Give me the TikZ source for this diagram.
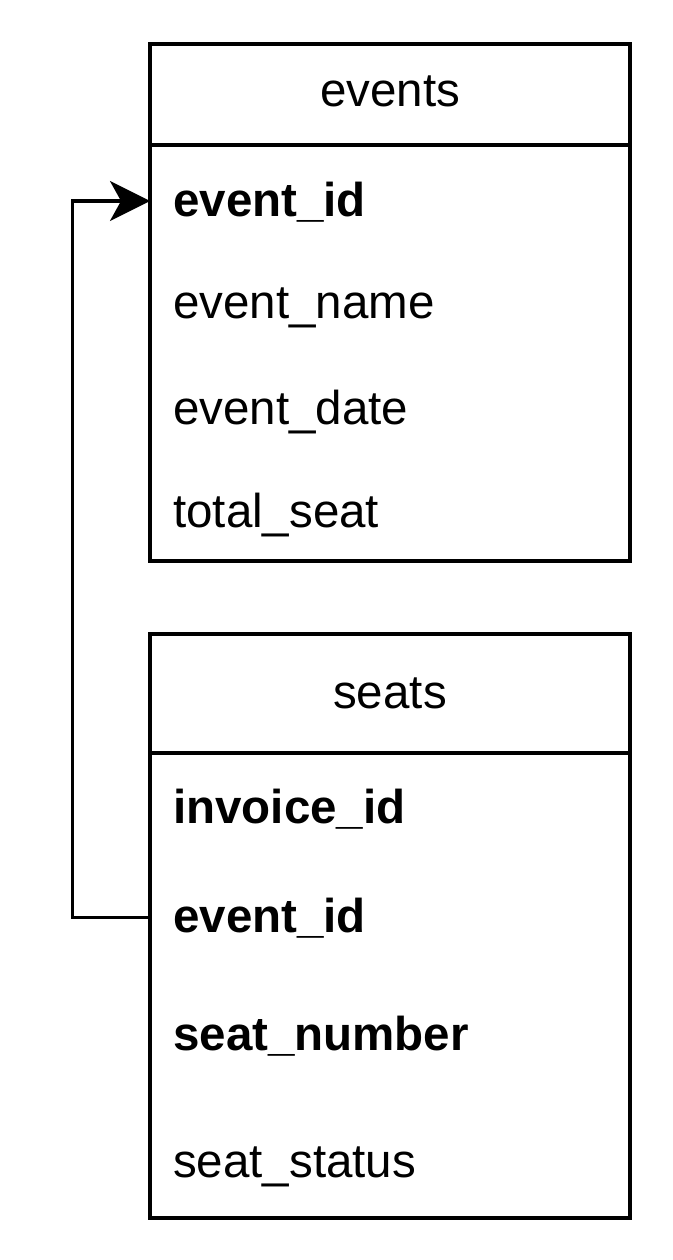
\documentclass[tikz,border=0pt]{standalone}
\usepackage{fontspec}
\setmainfont{Liberation Sans}
\usetikzlibrary{arrows.meta}
\tikzset{
  tbl/.style={draw, line width=3.5pt},
  hdr/.style={anchor=base, font=\fontsize{47.5}{57}\selectfont},
  fld/.style={anchor=base west, inner xsep=23pt, inner ysep=0pt, text height=38pt, text depth=8pt, font=\fontsize{47.5}{57}\selectfont},
  cle/.style={fld, font=\fontsize{47.5}{57}\selectfont\bfseries},
  lien/.style={-{Stealth[length=40pt,width=40pt,inset=11pt]}, line width=3pt}
}
\begin{document}
\begin{tikzpicture}[x=1pt, y=-1pt]
				\useasboundingbox (0,0) rectangle (672,1260);
				%Table events
				\draw[tbl] (150,44) rectangle (630,561);
				\draw[tbl] (150,145) -- (630,145);
				\node[hdr] (E0) at (390,107) {events};
				\node[cle] (E1) at (150,216) {event\_id};
				\node[fld] (E2) at (150,318) {event\_name};
				\node[fld] (E3) at (150,424) {event\_date};
				\node[fld] (E4) at (150,527) {total\_seat};
				%Table seats
				\draw[tbl] (150,634) rectangle (630,1218);
				\draw[tbl] (150,753) -- (630,753);
				\node[hdr] (S0) at (390,708) {seats};
				\node[cle] (S1) at (150,823) {invoice\_id};
				\node[cle] (S2) at (150,932) {event\_id};
				\node[cle] (S3) at (150,1050) {seat\_number};
				\node[fld] (S4) at (150,1177) {seat\_status};
				%Cle etrangere
				\draw[lien] (S2.west) -- ++(-78,0) |- (E1.west);
			\end{tikzpicture}
\end{document}
